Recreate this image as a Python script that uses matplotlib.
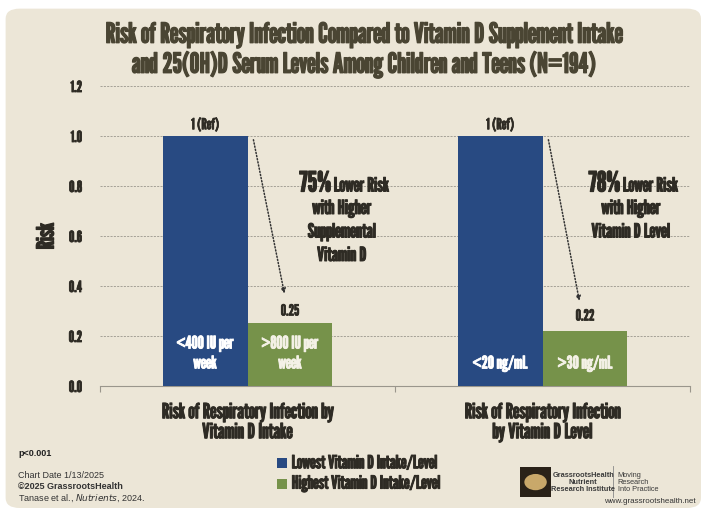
import matplotlib
matplotlib.use('Agg')
import matplotlib.pyplot as plt
import matplotlib.patheffects as pe
from matplotlib import font_manager
from matplotlib.patches import FancyBboxPatch, Rectangle, Circle
import numpy as np

# data
categories = ['Risk of Respiratory Infection by\nVitamin D Intake',
              'Risk of Respiratory Infection\nby Vitamin D Level']
lowest = [1.0, 1.0]
highest = [0.25, 0.22]
low_labels = ['<400 IU per\nweek', '<20 ng/mL']
high_labels = ['>800 IU per\nweek', '>30 ng/mL']
low_top = ['1 (Ref)', '1 (Ref)']
high_top = ['0.25', '0.22']
pct = ['75%', '78%']
pct_text = ['Lower Risk\nwith Higher\nSupplemental\nVitamin D',
            'Lower Risk\nwith Higher\nVitamin D Level']
y_ticks = [0.0, 0.2, 0.4, 0.6, 0.8, 1.0, 1.2]
legend_names = ['Lowest Vitamin D Intake/Level', 'Highest Vitamin D Intake/Level']

BLUE = '#284a82'
GREEN = '#76924a'
BG = '#ece6d7'
DARK = '#2e2b24'
TITLE = '#4a4533'
ARIAL = ['Liberation Sans', 'DejaVu Sans']

# pick a narrow display font if one is there
have = set(f.name for f in font_manager.fontManager.ttflist)
COND = 'DejaVu Sans'
for name in ['League Gothic', 'Oswald', 'Fjalla One', 'Antonio',
             'Roboto Condensed', 'Liberation Sans Narrow']:
    if name in have:
        COND = name
        break
COND = [COND, 'DejaVu Sans']


def bold(color, lw=0.7):
    # fake a heavier weight for the one-weight gothic font
    return [pe.withStroke(linewidth=lw, foreground=color)]


fig = plt.figure(figsize=(7.01, 5.08), dpi=100)
fig.patch.set_facecolor('white')
panel = FancyBboxPatch((0.008, 0.0), 0.992, 0.983,
                       boxstyle='round,pad=0,rounding_size=0.02',
                       transform=fig.transFigure, facecolor=BG,
                       edgecolor='none', zorder=-5)
fig.patches.append(panel)

ax = fig.add_axes([0.1427, 0.2402, 0.8416, 0.5905])
ax.set_facecolor('none')

x = np.arange(len(categories))
w = 0.288
ax.bar(x - w / 2, lowest, w, color=BLUE, zorder=3)
ax.bar(x + w / 2, highest, w, color=GREEN, zorder=3)

ax.set_xlim(-0.5, 1.5)
ax.set_ylim(0, 1.2)
ax.set_yticks(y_ticks)
ax.set_yticklabels(['%.1f' % t for t in y_ticks], family=COND,
                   fontsize=11, color=DARK, path_effects=bold(DARK, 0.6))
for t in y_ticks[1:]:
    ax.axhline(t, color='#9a968c', linestyle=(0, (2.5, 1.5)), linewidth=0.6,
               zorder=1)
ax.tick_params(axis='y', length=0, pad=13)
ax.set_xticks([-0.5, 0.5, 1.5])
ax.set_xticklabels([])
ax.tick_params(axis='x', length=4, color='#9a968c', width=0.8)
for s in ['top', 'right', 'left']:
    ax.spines[s].set_visible(False)
ax.spines['bottom'].set_color('#9a968c')
ax.spines['bottom'].set_linewidth(0.8)

ax.set_ylabel('Risk', family=COND, fontsize=17, color=DARK, labelpad=8,
              path_effects=bold(DARK, 0.9))

for i in range(len(categories)):
    ax.text(x[i] - w / 2, lowest[i] + 0.045, low_top[i], ha='center',
            va='center', family=COND, fontsize=11, color=DARK,
            path_effects=bold(DARK, 0.5))
    ax.text(x[i] + w / 2, highest[i] + 0.05 + 0.01 * i, high_top[i],
            ha='center', va='center', family=COND, fontsize=11, color=DARK,
            path_effects=bold(DARK, 0.5))
    ax.text(x[i] - w / 2, 0.13 - 0.04 * i, low_labels[i], ha='center',
            va='center', family=COND, fontsize=12.5, color='white',
            zorder=4, linespacing=1.3, path_effects=bold('white', 0.6))
    ax.text(x[i] + w / 2, 0.13 - 0.04 * i, high_labels[i], ha='center',
            va='center', family=COND, fontsize=12.5, color='#f4f1e6',
            zorder=4, linespacing=1.3, path_effects=bold('#f4f1e6', 0.6))
    # dotted arrow
    ax.annotate('', xy=(x[i] + 0.125, highest[i] + 0.12),
                xytext=(x[i] + 0.02, lowest[i] - 0.015),
                arrowprops=dict(arrowstyle='-|>', linestyle=(0, (0.8, 1.3)),
                                color='#333333', lw=1.1,
                                mutation_scale=7, shrinkA=0, shrinkB=0),
                zorder=5)
    # reduction text
    c = x[i] + 0.32 - 0.02 * i
    split = c - 0.036
    lines = pct_text[i].split('\n')
    ax.text(split, 0.778, pct[i], ha='right', va='baseline', family=COND,
            fontsize=20, color=DARK, path_effects=bold(DARK, 0.9))
    ax.text(split + 0.008, 0.778, lines[0], ha='left', va='baseline',
            family=COND, fontsize=14, color=DARK,
            path_effects=bold(DARK, 0.7))
    for k, line in enumerate(lines[1:]):
        ax.text(c, 0.710 - 0.094 * k, line, ha='center', va='center',
                family=COND, fontsize=14, color=DARK,
                path_effects=bold(DARK, 0.7))
    ax.text(x[i], -0.065, categories[i], ha='center', va='top',
            family=COND, fontsize=15, color=DARK, linespacing=1.0,
            path_effects=bold(DARK, 0.7))

fig.text(0.519, 0.902, 'Risk of Respiratory Infection Compared to Vitamin D '
         'Supplement Intake\nand 25(OH)D Serum Levels Among Children and '
         'Teens (N=194)', ha='center', va='center', family=COND,
         fontsize=20, color=TITLE, linespacing=1.12,
         path_effects=bold(TITLE, 0.9))

# footnotes
fig.text(0.026, 0.108, 'p<0.001', family=ARIAL, weight='bold', fontsize=6.5,
         color='#222222', va='center')
fig.text(0.026, 0.064, 'Chart Date 1/13/2025', family=ARIAL, fontsize=6.5,
         color='#333333', va='center')
fig.text(0.026, 0.042, '\u00a92025 GrassrootsHealth', family=ARIAL,
         weight='bold', fontsize=6.5, color='#333333', va='center')
fig.text(0.026, 0.020, 'Tanase et al., $\\it{Nutrients}$, 2024.', family=ARIAL,
         fontsize=6.5, color='#333333', va='center')

# legend
for j, (name, c) in enumerate(zip(legend_names, [BLUE, GREEN])):
    yy = 0.088 - j * 0.04
    fig.patches.append(Rectangle((0.395, yy - 0.01), 0.014, 0.02,
                                 transform=fig.transFigure, facecolor=c,
                                 edgecolor='none'))
    fig.text(0.416, yy, name, family=COND, fontsize=13, color=DARK,
             va='center', path_effects=bold(DARK, 0.7))

# logo
fig.patches.append(Rectangle((0.742, 0.022), 0.044, 0.058,
                             transform=fig.transFigure, facecolor='#2a2218',
                             edgecolor='none'))
fig.patches.append(Circle((0.764, 0.051), 0.016, transform=fig.transFigure,
                          facecolor='#c9a86a', edgecolor='none'))
fig.text(0.832, 0.051, 'GrassrootsHealth\nNutrient\nResearch Institute',
         ha='center', va='center', family=ARIAL, weight='bold', fontsize=5.3,
         color='#3a3a3a', linespacing=1.0)
fig.lines.append(plt.Line2D([0.875, 0.875], [0.022, 0.082],
                            transform=fig.transFigure, color='#888888',
                            linewidth=0.6))
fig.text(0.881, 0.051, 'Moving\nResearch\nInto Practice', ha='left',
         va='center', family=ARIAL, fontsize=5.3, color='#3a3a3a',
         linespacing=1.0)
fig.text(0.993, 0.012, 'www.grassrootshealth.net', ha='right', va='center',
         family=ARIAL, fontsize=5.8, color='#333333')

fig.savefig('out.png', dpi=100, facecolor=fig.get_facecolor())
